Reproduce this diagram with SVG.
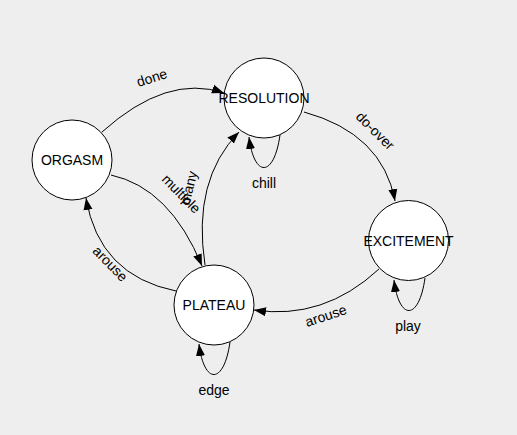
<svg xmlns="http://www.w3.org/2000/svg" width="517" height="435" viewBox="0 0 517 435">
<style>
text{font-family:"Liberation Sans",Arial,sans-serif;font-size:14px;fill:#000;text-anchor:middle}
.node circle{fill:#fff;stroke:#000;stroke-width:1}
.edge{fill:none;stroke:#000;stroke-width:1;marker-end:url(#arrow)}
</style>
<defs>
<marker id="arrow" viewBox="0 -5 12 10" refX="12" refY="0" markerWidth="12" markerHeight="10" markerUnits="userSpaceOnUse" orient="auto">
<path d="M0,-4.5L12,0L0,4.5Z" fill="#000"/>
</marker>
</defs>
<rect width="517" height="435" fill="#eeeeee"/>
<g id="connectors">
<path class="edge" d="M102,132Q167,73.5 224,93"/>
<path class="edge" d="M304,112Q382.5,133.5 395,201"/>
<path class="edge" d="M379,269Q323.5,320.5 254,310"/>
<path class="edge" d="M176,291Q99,275.5 86,198"/>
<path class="edge" d="M111,175Q170,188 202,266"/>
<path class="edge" d="M205,265Q192,180 239,132"/>
<path class="edge" d="M280,135C274,178 254,178 249,137"/>
<path class="edge" d="M230,342C224,385 204,385 199,344"/>
<path class="edge" d="M425,278C419,321 399,321 394,280"/>
<text transform="translate(152,78) rotate(-18)" y="4.5">done</text>
<text transform="translate(375,131) rotate(44.6)" y="4.5">do-over</text>
<text transform="translate(326,316) rotate(-18.3)" y="4.5">arouse</text>
<text transform="translate(110,264) rotate(45.6)" y="4.5">arouse</text>
<text transform="translate(181,194) rotate(45.6)" y="4.5">multiple</text>
<text transform="translate(189,188) rotate(-76.4)" y="4.5">many</text>
<text x="264" y="188">chill</text>
<text x="214" y="395">edge</text>
<text x="408" y="331">play</text>
</g>
<g id="ORGASM" class="node"><circle cx="72" cy="160" r="40"/><text x="72" y="165">ORGASM</text></g>
<g id="RESOLUTION" class="node"><circle cx="264" cy="98" r="40"/><text x="264" y="103">RESOLUTION</text></g>
<g id="PLATEAU" class="node"><circle cx="214" cy="305" r="40"/><text x="214" y="310">PLATEAU</text></g>
<g id="EXCITEMENT" class="node"><circle cx="408.5" cy="240.5" r="40"/><text x="408.5" y="245.5">EXCITEMENT</text></g>
</svg>
